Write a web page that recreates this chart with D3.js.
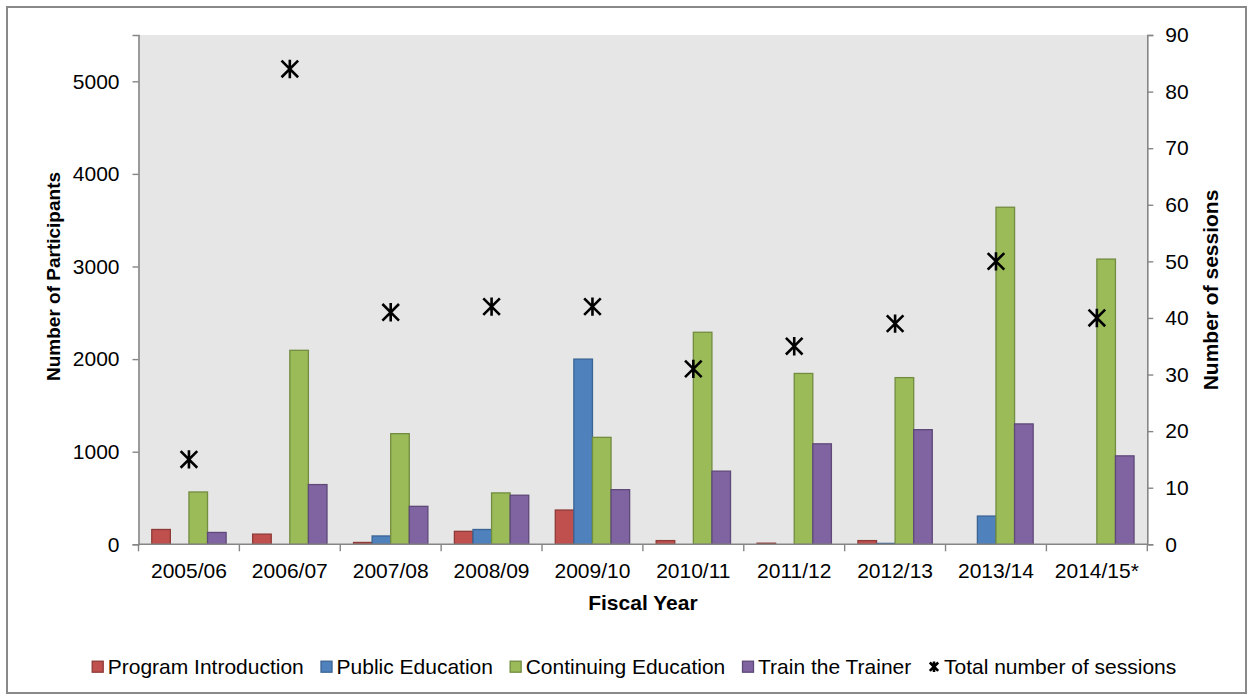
<!DOCTYPE html>
<html><head><meta charset="utf-8">
<script src="https://cdn.jsdelivr.net/npm/d3@7"></script>
<style>
body{margin:0;background:#fff}
svg{display:block;font-family:"Liberation Sans",Arial,sans-serif}
</style>
</head><body>
<svg id="chart" width="1253" height="700"></svg>
<script>
// ---- data ----
const categories = ['2005/06','2006/07','2007/08','2008/09','2009/10','2010/11','2011/12','2012/13','2013/14','2014/15*'];
const seriesNames = ['Program Introduction','Public Education','Continuing Education','Train the Trainer'];
const programIntroduction = [160, 110, 20, 140, 370, 40, 12, 40, 0, 0];
const publicEducation     = [0, 0, 90, 160, 2000, 0, 0, 10, 305, 0];
const continuingEducation = [565, 2095, 1195, 555, 1155, 2290, 1845, 1800, 3640, 3080];
const trainTheTrainer     = [128, 645, 410, 530, 590, 790, 1085, 1238, 1300, 955];
const sessionsName = 'Total number of sessions';
const totalSessions = [15, 84, 41, 42, 42, 31, 35, 39, 50, 40];
const leftTicks = [0, 1000, 2000, 3000, 4000, 5000];
const rightTicks = [0, 10, 20, 30, 40, 50, 60, 70, 80, 90];
const xTitle = 'Fiscal Year';
const yLeftTitle = 'Number of Participants';
const yRightTitle = 'Number of sessions';

// ---- styles ----
const fills = ['#C0504D', '#4F81BD', '#9BBB59', '#8064A2'];
const strokes = ['#8E3A37', '#3A6494', '#728C40', '#5E4979'];
const axisColor = '#868686';

const seriesValues = [programIntroduction, publicEducation, continuingEducation, trainTheTrainer];

const svg = d3.select('#chart');
const L = 138.5, R = 1147.3, T = 35, B = 544.3;

// outer border
svg.append('rect').attr('x', 7).attr('y', 7).attr('width', 1239).attr('height', 686)
  .attr('fill', '#fff').attr('stroke', '#898989').attr('stroke-width', 2);

// plot background
svg.append('rect').attr('x', L).attr('y', T).attr('width', R - L).attr('height', B - T).attr('fill', '#E6E6E6');

const x0 = d3.scaleBand().domain(categories).range([L, R]).paddingInner(0.263).paddingOuter(0.1315);
const x1 = d3.scaleBand().domain(seriesNames).range([0, x0.bandwidth()]).padding(0);
const yL = d3.scaleLinear().domain([0, 5500]).range([B, T]);
const yR = d3.scaleLinear().domain([0, 90]).range([B, T]);

// bars
const rows = categories.map((c, i) => ({cat: c, vals: seriesNames.map((s, j) => ({s, j, v: seriesValues[j][i]}))}));
const groups = svg.append('g').selectAll('g').data(rows).join('g')
  .attr('transform', d => `translate(${x0(d.cat)},0)`);
groups.selectAll('rect').data(d => d.vals.filter(e => e.v > 0)).join('rect')
  .attr('x', e => x1(e.s))
  .attr('y', e => yL(e.v))
  .attr('width', x1.bandwidth())
  .attr('height', e => B - yL(e.v))
  .attr('fill', e => fills[e.j])
  .attr('stroke', e => strokes[e.j])
  .attr('stroke-width', 1.3);

// axes
const gl = svg.append('g').attr('transform', `translate(${L},0)`)
  .call(d3.axisLeft(yL).tickValues(leftTicks).tickSize(6).tickPadding(13).tickFormat(d3.format('d')));
const gr = svg.append('g').attr('transform', `translate(${R},0)`)
  .call(d3.axisRight(yR).tickValues(rightTicks).tickSize(6).tickPadding(12).tickFormat(d3.format('d')));
[gl, gr].forEach(g => {
  g.select('.domain').attr('stroke', axisColor).attr('stroke-width', 1.6);
  g.selectAll('.tick line').attr('stroke', axisColor).attr('stroke-width', 1.4);
  g.selectAll('.tick text').attr('fill', '#000').style('font-size', '21px')
    .style('font-family', '"Liberation Sans",Arial,sans-serif');
});

// bottom axis
const gb = svg.append('g');
gb.append('line').attr('x1', L).attr('x2', R).attr('y1', B).attr('y2', B)
  .attr('stroke', axisColor).attr('stroke-width', 1.6);
const half = (x0.step() - x0.bandwidth()) / 2;
const bounds = categories.map(c => x0(c) - half).concat([x0(categories[categories.length - 1]) + x0.bandwidth() + half]);
gb.selectAll('line.tk').data(bounds).join('line').attr('class', 'tk')
  .attr('x1', d => d).attr('x2', d => d).attr('y1', B).attr('y2', B + 7)
  .attr('stroke', axisColor).attr('stroke-width', 1.4);
gb.selectAll('text').data(categories).join('text')
  .attr('x', c => x0(c) + x0.bandwidth() / 2).attr('y', 577.5)
  .attr('text-anchor', 'middle').style('font-size', '21px').text(c => c);

// sessions markers
function starPath(cx, cy, r, rv) {
  return `M${cx - r},${cy - r}L${cx + r},${cy + r}M${cx - r},${cy + r}L${cx + r},${cy - r}M${cx},${cy - rv}L${cx},${cy + rv}`;
}
svg.append('g').selectAll('path').data(categories).join('path')
  .attr('d', (c, i) => starPath(x0(c) + x0.bandwidth() / 2, yR(totalSessions[i]), 8.3, 9.2))
  .attr('stroke', '#000').attr('stroke-width', 2.6).attr('fill', 'none');

// titles
svg.append('text').attr('x', (L + R) / 2).attr('y', 610).attr('text-anchor', 'middle')
  .style('font-size', '21px').style('font-weight', 'bold').text(xTitle);
svg.append('text').attr('transform', 'translate(59.5,276.5) rotate(-90)').attr('text-anchor', 'middle')
  .style('font-size', '19px').style('font-weight', 'bold').text(yLeftTitle);
svg.append('text').attr('transform', 'translate(1217.5,290) rotate(-90)').attr('text-anchor', 'middle')
  .style('font-size', '21px').style('font-weight', 'bold').text(yRightTitle);

// legend
const leg = svg.append('g');
let cx = 0;
const items = seriesNames.map((s, j) => ({name: s, type: 'sq', j})).concat([{name: sessionsName, type: 'star'}]);
items.forEach((it, k) => {
  const g = leg.append('g').attr('transform', `translate(${cx},0)`);
  if (it.type === 'sq') {
    g.append('rect').attr('x', 0.5).attr('y', -5.5).attr('width', 11).attr('height', 11)
      .attr('fill', fills[it.j]).attr('stroke', strokes[it.j]).attr('stroke-width', 1.3);
  } else {
    g.append('path').attr('d', starPath(6, 0, 4.2, 5.2)).attr('stroke', '#000').attr('stroke-width', 2.6).attr('fill', 'none');
  }
  const t = g.append('text').attr('x', 16).attr('y', 7.5).style('font-size', '21px').text(it.name);
  const w = t.node().getComputedTextLength();
  cx += 16 + w + 16.7;
});
const total = cx - 16.7;
leg.attr('transform', `translate(${634 - total / 2},666.7)`);
</script>
</body></html>
